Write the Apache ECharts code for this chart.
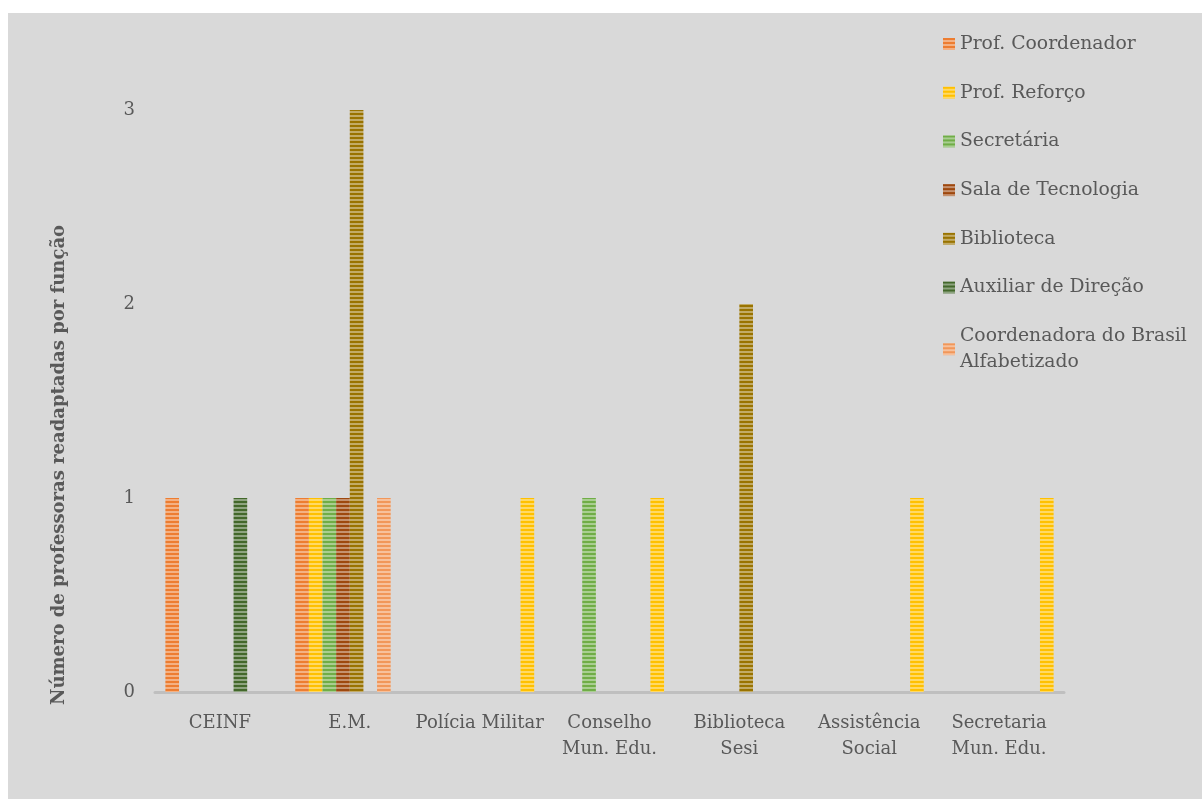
<!DOCTYPE html>
<html>
<head>
<meta charset="utf-8">
<script src="https://cdn.jsdelivr.net/npm/echarts@6/dist/echarts.min.js"></script>
<style>
  html, body { margin: 0; padding: 0; background: #ffffff; width: 1202px; height: 799px; overflow: hidden; }
  #chart { position: absolute; left: 8px; top: 13px; width: 1194px; height: 786px; background: #d9d9d9; }
</style>
</head>
<body>
<div id="chart"></div>
<script>
const categories = ['CEINF', 'E.M.', 'Polícia Militar', 'Conselho\nMun. Edu.', 'Biblioteca\nSesi', 'Assistência\nSocial', 'Secretaria\nMun. Edu.'];
const seriesNames = ['Prof. Coordenador', 'Prof. Reforço', 'Secretária', 'Sala de Tecnologia', 'Biblioteca', 'Auxiliar de Direção', 'Coordenadora do Brasil\nAlfabetizado', 'Outros'];
const profCoordenador = [1, 1, null, null, null, null, null];
const profReforco     = [null, 1, null, null, null, null, null];
const secretaria      = [null, 1, null, 1, null, null, null];
const salaTecnologia  = [null, 1, null, null, null, null, null];
const biblioteca      = [null, 3, null, null, 2, null, null];
const auxiliarDirecao = [1, null, null, null, null, null, null];
const coordBrasil     = [null, 1, null, null, null, null, null];
const outros          = [null, null, 1, 1, null, 1, 1];
const yTicks = [0, 1, 2, 3];
const seriesData = [profCoordenador, profReforco, secretaria, salaTecnologia, biblioteca, auxiliarDirecao, coordBrasil, outros];
const colors = ['#ED7D31', '#FFC000', '#70AD47', '#9E480E', '#997300', '#43682B', '#F1975A', '#FFC000'];

function lighten(hex, f) {
  const n = parseInt(hex.slice(1), 16);
  const r = (n >> 16) & 255, g = (n >> 8) & 255, b = n & 255;
  const m = c => Math.round(c + (255 - c) * f);
  return 'rgb(' + m(r) + ',' + m(g) + ',' + m(b) + ')';
}
function stripe(hex) {
  const c = document.createElement('canvas');
  c.width = 4; c.height = 4;
  const ctx = c.getContext('2d');
  ctx.fillStyle = lighten(hex, 0.4);
  ctx.fillRect(0, 0, 4, 4);
  ctx.fillStyle = hex;
  ctx.fillRect(0, 0, 4, 2);
  return { image: c, repeat: 'repeat' };
}

const font = '"DejaVu Serif", "Liberation Serif", serif';
const fs = 18;
const chart = echarts.init(document.getElementById('chart'), null, { renderer: 'canvas' });
chart.setOption({
  backgroundColor: '#d9d9d9',
  animation: false,
  grid: { left: 147, right: 138, top: 97, bottom: 107, containLabel: false },
  legend: {
    orient: 'vertical',
    left: 930,
    top: 13,
    data: seriesNames.slice(0, 7),
    itemWidth: 12,
    itemHeight: 12,
    itemGap: 22.7,
    icon: 'rect',
    textStyle: { fontFamily: font, fontSize: 18.8, color: '#595959', lineHeight: 26 }
  },
  xAxis: {
    type: 'category',
    data: categories,
    axisLine: { lineStyle: { color: '#bfbfbf', width: 3 } },
    axisTick: { show: false },
    axisLabel: { fontFamily: font, fontSize: fs, color: '#595959', margin: 18, lineHeight: 26, interval: 0 }
  },
  yAxis: {
    type: 'value',
    min: 0, max: 3, interval: 1,
    axisLine: { show: false },
    axisTick: { show: false },
    splitLine: { show: false },
    axisLabel: { fontFamily: font, fontSize: fs, color: '#595959', margin: 20,
      formatter: v => yTicks.includes(v) ? String(v) : '' }
  },
  graphic: [{
    type: 'text',
    x: 51, y: 452,
    rotation: Math.PI / 2,
    style: {
      text: 'Número de professoras readaptadas por função',
      fontFamily: font, fontSize: 18, fontWeight: 'bold', fill: '#595959',
      align: 'center', verticalAlign: 'middle'
    }
  }],
  series: seriesData.map((d, i) => ({
    name: seriesNames[i],
    type: 'bar',
    data: d,
    barGap: '0%',
    barCategoryGap: '16%',
    itemStyle: { color: stripe(colors[i]) }
  }))
});
</script>
</body>
</html>
